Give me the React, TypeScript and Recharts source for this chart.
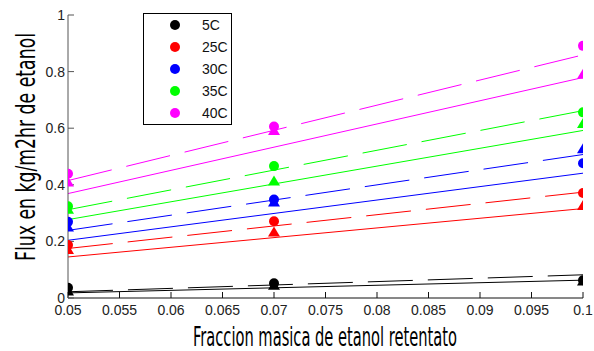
import { ComposedChart, Line, Scatter, XAxis, YAxis, Legend } from 'recharts';

// fraction values where samples were taken
const fractions = [0.05, 0.07, 0.1];
const fitEnds = [0.05, 0.1];

const temps = ['5C', '25C', '30C', '35C', '40C'];
const COLORS = ['#000000', '#ff0000', '#0000ff', '#00ff00', '#ff00ff'];

// circle markers (dashed fits)
const circleFlux = [
    [0.036, 0.052, 0.063],
    [0.187, 0.271, 0.371],
    [0.269, 0.348, 0.476],
    [0.324, 0.466, 0.656],
    [0.439, 0.606, 0.891],
];

// triangle markers (solid fits)
const triangleFlux = [
    [0.025, 0.045, 0.06],
    [0.171, 0.233, 0.327],
    [0.251, 0.339, 0.527],
    [0.314, 0.413, 0.617],
    [0.41, 0.592, 0.791],
];

// fitted line end values at 0.05 and 0.1
const dashedFit = [
    [0.022, 0.082],
    [0.175, 0.374],
    [0.239, 0.507],
    [0.312, 0.662],
    [0.415, 0.859],
];
const solidFit = [
    [0.018, 0.063],
    [0.145, 0.316],
    [0.204, 0.441],
    [0.277, 0.592],
    [0.369, 0.779],
];

const xTicks = [0.05, 0.055, 0.06, 0.065, 0.07, 0.075, 0.08, 0.085, 0.09, 0.095, 0.1];
const yTicks = [0, 0.2, 0.4, 0.6, 0.8, 1];

const toPoints = (xs: number[], ys: number[]) => xs.map((x, i) => ({ x, y: ys[i] }));

const TICK_FONT = { fontFamily: '"Liberation Sans", Arial, sans-serif', fontSize: 14, fill: '#222' };
const TITLE_FONT = '"DejaVu Sans Condensed", "DejaVu Sans", sans-serif';

function LegendBox() {
    return (
        <div style={{ width: 87, height: 110, border: '1px solid #000', background: '#fff' }}>
            <svg width={87} height={110}>
                {temps.map((t, i) => (
                    <g key={t}>
                        <circle cx={31} cy={11 + i * 22} r={5} fill={COLORS[i]} />
                        <text x={58} y={16 + i * 22} style={{ ...TICK_FONT, fill: '#111' }}>{t}</text>
                    </g>
                ))}
            </svg>
        </div>
    );
}

export default function App() {
    return (
        <div style={{ position: 'absolute', left: 0, top: 0 }}>
            <ComposedChart width={594} height={351} margin={{ top: 15, right: 11, left: 0, bottom: 0 }}>
                <XAxis
                    type="number"
                    dataKey="x"
                    domain={[0.05, 0.1]}
                    ticks={xTicks}
                    interval={0}
                    height={53}
                    tickSize={-6}
                    tickMargin={13}
                    tick={TICK_FONT}
                    stroke="#111"
                    allowDataOverflow
                />
                <YAxis
                    type="number"
                    dataKey="y"
                    domain={[0, 1]}
                    ticks={yTicks}
                    interval={0}
                    width={68}
                    tickSize={-6}
                    tickMargin={9}
                    tick={TICK_FONT}
                    stroke="#555"
                    allowDataOverflow
                />
                <Legend
                    layout="horizontal"
                    verticalAlign="middle"
                    align="center"
                    wrapperStyle={{ left: 143, top: 13, width: 89, height: 112 }}
                    content={() => <LegendBox />}
                />
                {temps.map((t, i) => (
                    <Line
                        key={`s-${t}`}
                        data={toPoints(fitEnds, solidFit[i])}
                        dataKey="y"
                        stroke={COLORS[i]}
                        strokeWidth={1}
                        dot={false}
                        activeDot={false}
                        legendType="none"
                        isAnimationActive={false}
                    />
                ))}
                {temps.map((t, i) => (
                    <Line
                        key={`d-${t}`}
                        data={toPoints(fitEnds, dashedFit[i])}
                        dataKey="y"
                        stroke={COLORS[i]}
                        strokeWidth={1}
                        strokeDasharray="45 15"
                        dot={false}
                        activeDot={false}
                        legendType="none"
                        isAnimationActive={false}
                    />
                ))}
                {temps.map((t, i) => (
                    <Scatter
                        key={`c-${t}`}
                        data={toPoints(fractions, circleFlux[i])}
                        fill={COLORS[i]}
                        isAnimationActive={false}
                        shape={(p: any) => <circle cx={p.cx} cy={p.cy} r={5} fill={COLORS[i]} />}
                    />
                ))}
                {temps.map((t, i) => (
                    <Scatter
                        key={`t-${t}`}
                        data={toPoints(fractions, triangleFlux[i])}
                        fill={COLORS[i]}
                        isAnimationActive={false}
                        shape={(p: any) => (
                            <polygon
                                points={`${p.cx},${p.cy - 5.5} ${p.cx - 6},${p.cy + 4.5} ${p.cx + 6},${p.cy + 4.5}`}
                                fill={COLORS[i]}
                            />
                        )}
                    />
                ))}
                <text
                    x={325}
                    y={346}
                    textAnchor="middle"
                    textLength={264}
                    lengthAdjust="spacingAndGlyphs"
                    style={{ fontFamily: TITLE_FONT, fontSize: 26, fill: '#000' }}
                >
                    Fraccion masica de etanol retentato
                </text>
                <text
                    transform="rotate(-90)"
                    x={-147}
                    y={35}
                    textAnchor="middle"
                    textLength={228}
                    lengthAdjust="spacingAndGlyphs"
                    style={{ fontFamily: TITLE_FONT, fontSize: 26, fill: '#000' }}
                >
                    Flux en kg/m2hr de etanol
                </text>
            </ComposedChart>
        </div>
    );
}
